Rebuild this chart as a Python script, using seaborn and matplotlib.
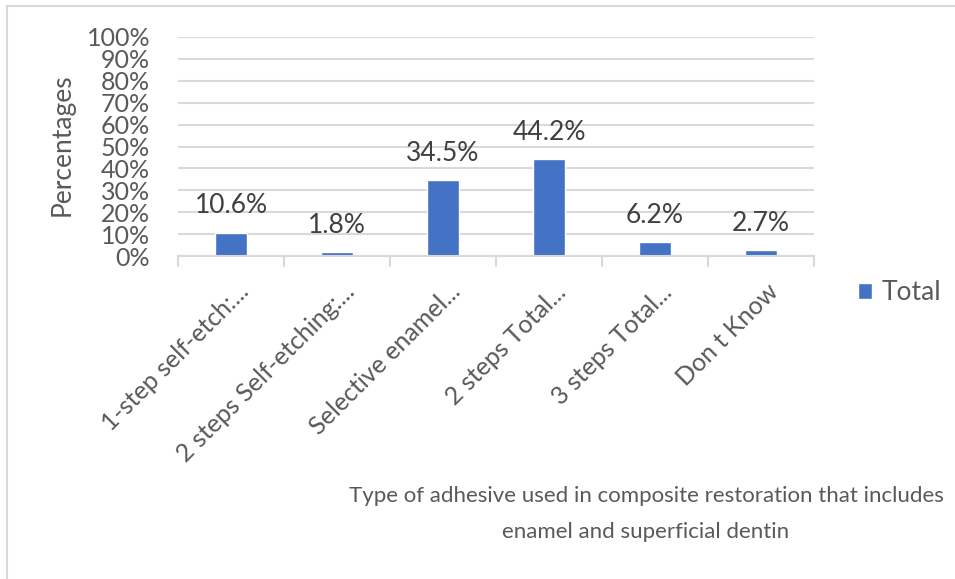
import matplotlib
matplotlib.use("Agg")
import matplotlib.pyplot as plt
import seaborn as sns
import pandas as pd
from matplotlib.patches import Rectangle
from matplotlib.ticker import PercentFormatter
from matplotlib.transforms import ScaledTranslation

# data
categories = ["1-step self-etch:...", "2 steps Self-etching:...", "Selective enamel...",
              "2 steps Total...", "3 steps Total...", "Don t Know"]
values = [10.6, 1.8, 34.5, 44.2, 6.2, 2.7]
series_name = "Total"

df = pd.DataFrame({"cat": categories, "val": values, "series": series_name})

sns.set_theme(style="white")
plt.rcParams["font.family"] = ["Lato", "DejaVu Sans"]

text_col = "#595959"
grid_col = "#D9D9D9"
bar_col = "#4472C4"

fig = plt.figure(figsize=(9.55, 5.79), dpi=100)
ax = fig.add_axes([178 / 955, 1 - 256 / 579, (814 - 178) / 955, (256 - 37) / 579])

sns.barplot(data=df, x="cat", y="val", hue="series", palette=[bar_col],
            saturation=1, width=0.31, ax=ax, legend=True)

ax.set_ylim(0, 100)
ax.set_xlim(-0.5, len(categories) - 0.5)
ax.set_yticks(range(0, 101, 10))
ax.yaxis.set_major_formatter(PercentFormatter(decimals=0))
ax.grid(axis="y", color=grid_col, lw=1.5)
ax.set_axisbelow(True)
for s in ["top", "right", "left"]:
    ax.spines[s].set_visible(False)
ax.spines["bottom"].set_color(grid_col)
ax.spines["bottom"].set_linewidth(1.5)

ax.tick_params(axis="y", length=0, labelsize=18, labelcolor=text_col, pad=20)
ax.set_xticks(range(len(categories)))
ax.set_xticklabels(categories, rotation=45, ha="right", va="baseline",
                   rotation_mode="anchor", fontsize=18, color=text_col)
ax.tick_params(axis="x", length=0, pad=27)
shift = ScaledTranslation(19 / 100, 0, fig.dpi_scale_trans)
for lab in ax.get_xticklabels():
    lab.set_transform(lab.get_transform() + shift)

# category boundary tick marks
for b in [i - 0.5 for i in range(len(categories) + 1)]:
    ax.plot([b, b], [0, -4.5], color=grid_col, lw=1.5, clip_on=False)

for i, v in enumerate(values):
    ax.annotate(f"{v}%", (i, v), xytext=(0, 14), textcoords="offset points",
                ha="center", va="baseline", fontsize=19, color="#404040")

ax.set_xlabel("")
ax.set_ylabel("")
fig.text(62 / 955, 1 - 145 / 579, "Percentages", rotation=90, ha="center",
         va="center", fontsize=19, color=text_col)

fig.text(646 / 955, 1 - 514 / 579,
         "Type of adhesive used in composite restoration that includes\nenamel and superficial dentin",
         ha="center", va="center", fontsize=16, color=text_col, linespacing=2.0)

ax.legend(loc="center left", bbox_to_anchor=(858 / 955, 1 - 293 / 579),
          bbox_transform=fig.transFigure, frameon=False, fontsize=19,
          labelcolor=text_col, borderpad=0, borderaxespad=0,
          handlelength=0.53, handleheight=0.53, handletextpad=0.35)

fig.patches.append(Rectangle((7 / 955, -0.1), 1.2, 1 - 6 / 579 + 0.1,
                             transform=fig.transFigure, fill=False,
                             edgecolor=grid_col, lw=1.5))

fig.savefig("out.png", dpi=100)
